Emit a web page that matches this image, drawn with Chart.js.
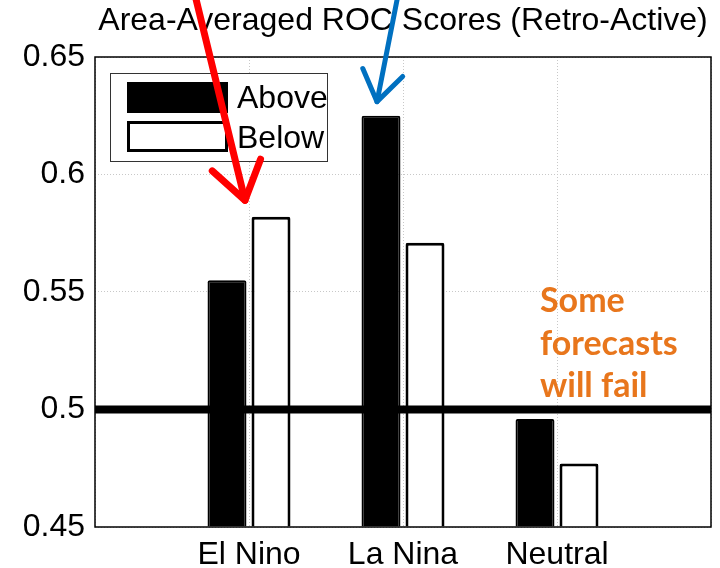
<!DOCTYPE html>
<html>
<head>
<meta charset="utf-8">
<script src="https://cdn.jsdelivr.net/npm/chart.js@4.4.0/dist/chart.umd.min.js"></script>
<style>
  html, body { margin: 0; padding: 0; background: #fff; }
  #wrap { width: 720px; height: 568px; }
</style>
</head>
<body>
<div id="wrap"><canvas id="myChart" width="720" height="568"></canvas></div>
<script>
  // data
  const categories = ['El Nino', 'La Nina', 'Neutral'];
  const aboveScores = [0.555, 0.625, 0.496];
  const belowScores = [0.582, 0.571, 0.477];
  const yTicks = [0.45, 0.5, 0.55, 0.6, 0.65];
  const threshold = 0.5;

  // x axis runs 0..4 like the original, so pad an empty slot on each side
  const labels = [''].concat(categories, ['']);
  const pad = arr => [null].concat(arr, [null]);

  const FONT = "'Liberation Sans', Arial, sans-serif";

  // frame, legend box, arrows and the orange note
  const extras = {
    id: 'extras',
    afterDraw(chart) {
      const c = chart.ctx;
      const a = chart.chartArea;
      const xs = chart.scales.x, ys = chart.scales.y;
      c.save();

      // axes box
      c.strokeStyle = '#000';
      c.lineWidth = 1.5;
      c.strokeRect(a.left, a.top, a.right - a.left, a.bottom - a.top);

      // legend
      const lx = a.left + 15, ly = a.top + 16;
      c.fillStyle = '#fff';
      c.fillRect(lx, ly, 217, 88);
      c.lineWidth = 1;
      c.strokeStyle = '#333';
      c.strokeRect(lx + 0.5, ly + 0.5, 217, 88);
      c.fillStyle = '#000';
      c.fillRect(lx + 17, ly + 9, 101, 31);
      c.fillStyle = '#fff';
      c.fillRect(lx + 17, ly + 48, 101, 31);
      c.lineWidth = 3;
      c.strokeStyle = '#000';
      c.strokeRect(lx + 18.5, ly + 49.5, 98, 28);
      c.fillStyle = '#000';
      c.font = '32px ' + FONT;
      c.textBaseline = 'alphabetic';
      c.textAlign = 'left';
      c.fillText('Above', lx + 127, ly + 35);
      c.fillText('Below', lx + 127, ly + 75);

      // orange note
      c.fillStyle = '#E8761C';
      c.font = "bold 34px Lato, 'Open Sans', sans-serif";
      const nx = xs.getPixelForValue(2) + 137;
      c.fillText('Some', nx, ys.getPixelForValue(0.5415));
      c.fillText('forecasts', nx, ys.getPixelForValue(0.5233));
      c.fillText('will fail', nx, ys.getPixelForValue(0.5053));

      // arrows
      function arrow(x0, y0, x1, y1, color, w, head, spread) {
        c.strokeStyle = color;
        c.lineWidth = w;
        c.lineCap = 'round';
        c.lineJoin = 'round';
        c.beginPath();
        c.moveTo(x0, y0);
        c.lineTo(x1, y1);
        c.stroke();
        const ang = Math.atan2(y1 - y0, x1 - x0);
        c.beginPath();
        c.moveTo(x1 - head * Math.cos(ang - spread), y1 - head * Math.sin(ang - spread));
        c.lineTo(x1, y1);
        c.lineTo(x1 - head * Math.cos(ang + spread), y1 - head * Math.sin(ang + spread));
        c.stroke();
      }
      const rx = xs.getPixelForValue(1) - 4, ry = ys.getPixelForValue(0.589);
      arrow(rx - 50, -5, rx, ry, '#FF0000', 7, 44, 0.6);
      const bx = xs.getPixelForValue(2) - 26, by = ys.getPixelForValue(0.631);
      arrow(bx + 21, -5, bx, by, '#0070C0', 5, 36, 0.6);

      c.restore();
    }
  };

  const ctx = document.getElementById('myChart').getContext('2d');
  const myChart = new Chart(ctx, {
    type: 'bar',
    data: {
      labels: labels,
      datasets: [
        {
          type: 'line',
          label: 'threshold',
          data: labels.map(() => threshold),
          borderColor: '#000',
          borderWidth: 8,
          pointRadius: 0,
          fill: false,
          order: 0
        },
        {
          label: 'Above',
          data: pad(aboveScores),
          backgroundColor: '#000',
          borderColor: '#000',
          borderWidth: 2,
          borderRadius: 2,
          base: 0.45,
          categoryPercentage: 0.5714,
          barPercentage: 0.886,
          order: 1
        },
        {
          label: 'Below',
          data: pad(belowScores),
          backgroundColor: '#fff',
          borderColor: '#000',
          borderWidth: 3,
          borderRadius: 2,
          base: 0.45,
          categoryPercentage: 0.5714,
          barPercentage: 0.886,
          order: 1
        }
      ]
    },
    options: {
      responsive: false,
      animation: false,
      layout: { padding: { left: 0, right: 8, top: 0, bottom: 0 } },
      plugins: {
        legend: { display: false },
        tooltip: { enabled: false },
        title: {
          display: true,
          fullSize: false,
          text: 'Area-Averaged ROC Scores (Retro-Active)',
          color: '#000',
          font: { family: FONT, size: 32, weight: 'normal' },
          padding: { top: 2, bottom: 16.6 }
        }
      },
      scales: {
        x: {
          offset: false,
          grid: { offset: false, color: '#c8c8c8', lineWidth: 1, drawTicks: false },
          border: { display: false, dash: [1, 2] },
          ticks: {
            color: '#000',
            font: { family: FONT, size: 32 },
            padding: 9,
            autoSkip: false,
            maxRotation: 0
          },
          afterFit(scale) { scale.height = 41; }
        },
        y: {
          min: 0.45,
          max: 0.65,
          afterBuildTicks(scale) { scale.ticks = yTicks.map(v => ({ value: v })); },
          grid: { color: '#c8c8c8', lineWidth: 1, drawTicks: false },
          border: { display: false, dash: [1, 2] },
          ticks: {
            color: '#000',
            font: { family: FONT, size: 32 },
            padding: 10,
            callback: v => String(Math.round(v * 100) / 100)
          },
          afterFit(scale) { scale.width = 95; }
        }
      }
    },
    plugins: [extras]
  });
</script>
</body>
</html>
